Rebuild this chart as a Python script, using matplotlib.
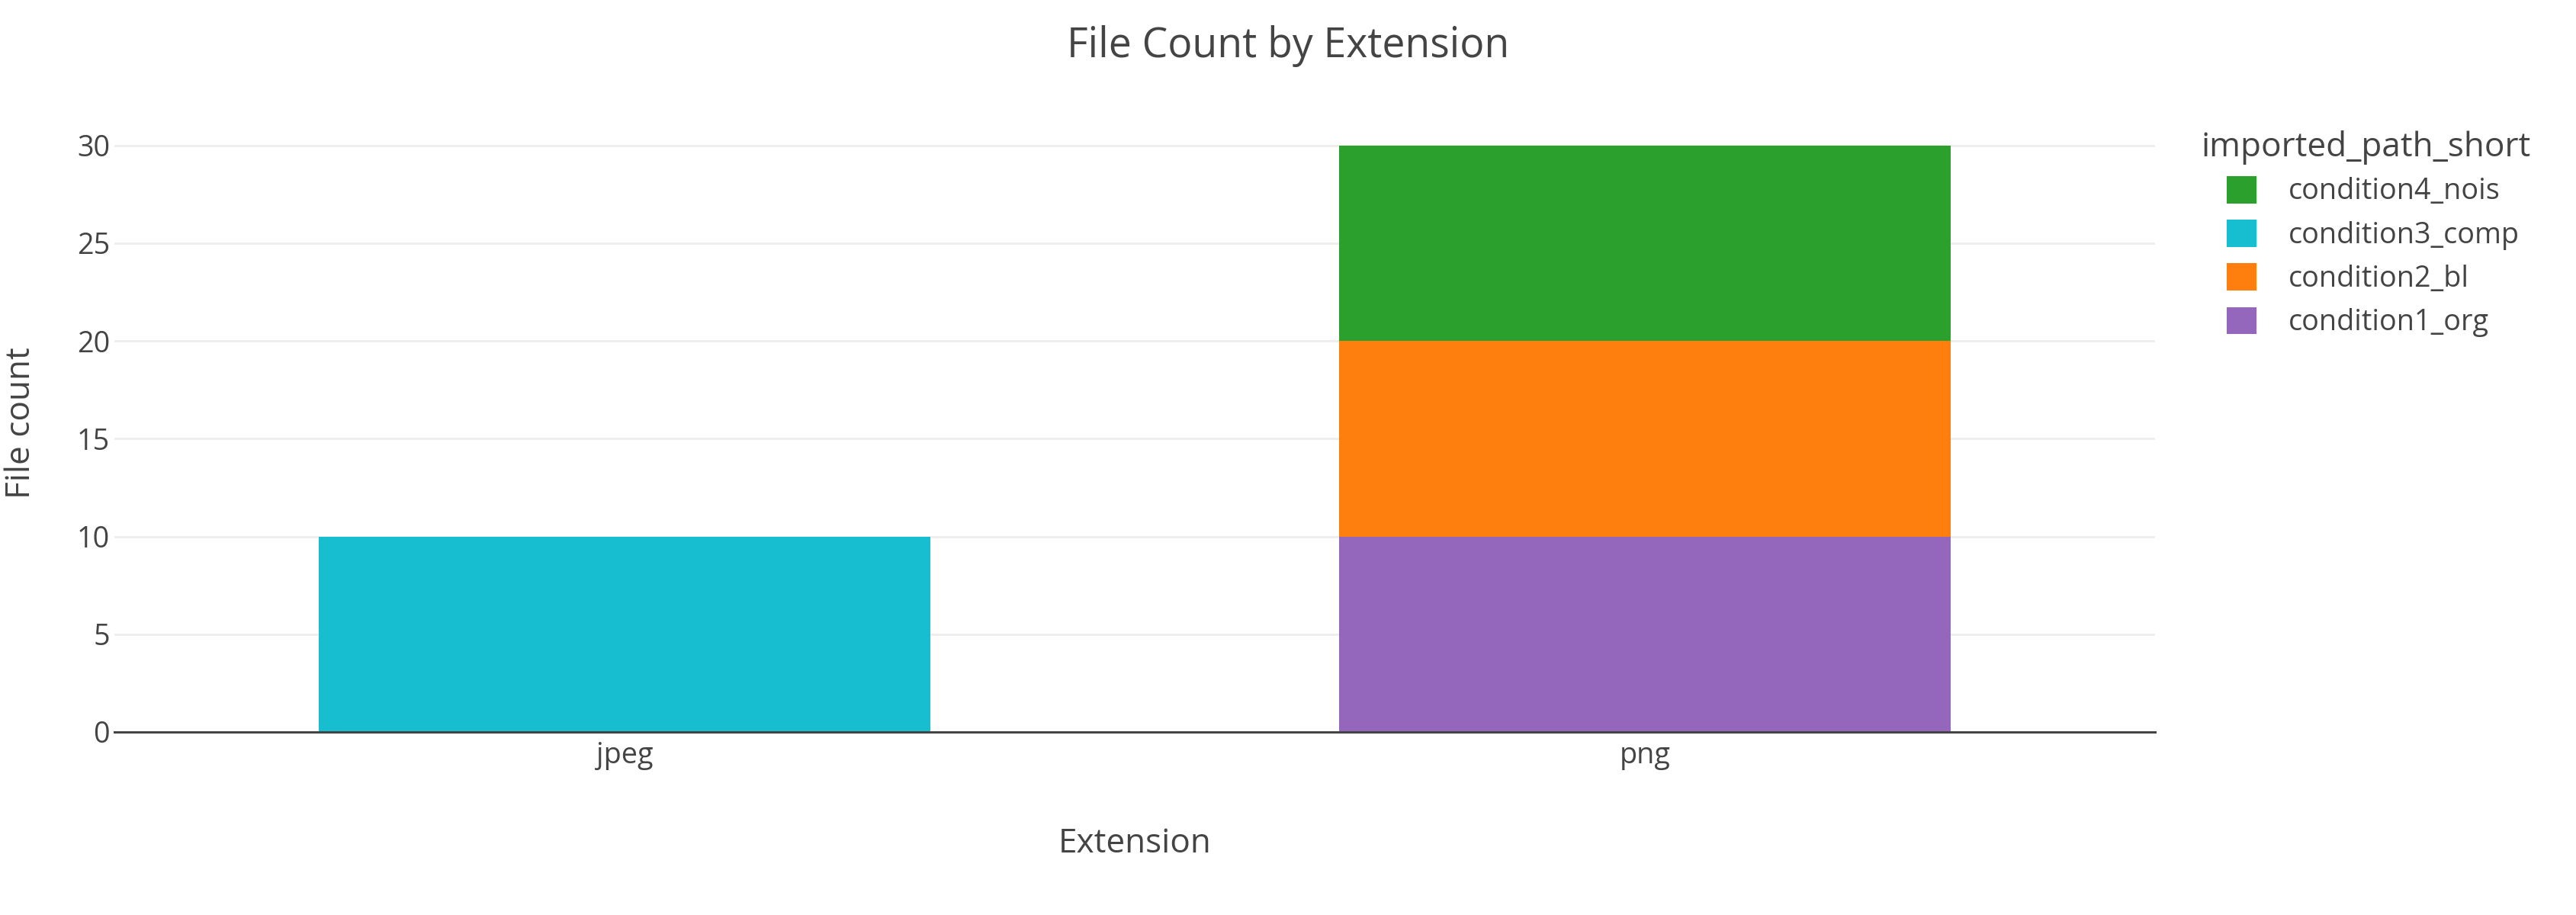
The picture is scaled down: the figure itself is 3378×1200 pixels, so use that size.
import matplotlib.pyplot as plt
import matplotlib.patches as mpatches

plt.rcParams['font.family'] = ['Open Sans', 'DejaVu Sans']

# counts per extension for each imported_path_short group
extensions = ['jpeg', 'png']
groups = ['condition1_org', 'condition2_bl', 'condition3_comp', 'condition4_nois']
condition1_org = [0, 10]
condition2_bl = [0, 10]
condition3_comp = [10, 0]
condition4_nois = [0, 10]
colors = ['#9467bd', '#ff7f0e', '#17becf', '#2ca02c']

series = [condition1_org, condition2_bl, condition3_comp, condition4_nois]
text_color = '#444444'
k = 1.05  # plotly's text renders a little wider than matplotlib's

# dpi 216 -> one plotly css pixel (scale 3) is one point
fig = plt.figure(figsize=(3378 / 216, 1200 / 216), dpi=216)
ax = fig.add_axes([150 / 3378, 240 / 1200, 2676 / 3378, 810 / 1200])

x = list(range(len(extensions)))
bottom = [0] * len(extensions)
handles = []
for name, vals, col in zip(groups, series, colors):
    ax.bar(x, vals, width=0.6, bottom=bottom, color=col, label=name, zorder=2)
    handles.append(mpatches.Patch(color=col, label=name))
    bottom = [b + v for b, v in zip(bottom, vals)]

ax.set_xlim(-0.5, len(extensions) - 0.5)
ax.set_ylim(0, 31.58)
ax.set_yticks([0, 5, 10, 15, 20, 25, 30])
ax.set_xticks(x)
ax.set_xticklabels(extensions)
ax.yaxis.grid(True, color='#eeeeee', linewidth=1, zorder=0)
ax.set_axisbelow(True)
for s in ['top', 'right', 'left']:
    ax.spines[s].set_visible(False)
ax.spines['bottom'].set_color(text_color)
ax.spines['bottom'].set_linewidth(1)
ax.spines['bottom'].set_zorder(3)
ax.tick_params(axis='both', length=0, labelsize=12 * k, colors=text_color)
ax.tick_params(axis='y', pad=2)
ax.tick_params(axis='x', pad=4)

ax.set_xlabel('Extension', fontsize=14 * k, color=text_color, va='baseline')
ax.xaxis.set_label_coords(0.5, (960 - 1118) / 810)
ax.set_ylabel('File count', fontsize=14 * k, color=text_color, va='center')
ax.yaxis.set_label_coords((28 - 150) / 2676, 0.5)

fig.text(0.5, 1 - 75 / 1200, 'File Count by Extension', fontsize=17 * k,
         color=text_color, ha='center', va='baseline')

# legend: plotly lists stacked traces top-down
fig.text(2887 / 3378, 1 - 205 / 1200, 'imported_path_short', fontsize=14 * k,
         color=text_color, ha='left', va='baseline')
leg = fig.legend(handles=handles[::-1], loc='upper left',
                 bbox_to_anchor=(2921 / 3378, 1 - 232 / 1200),
                 frameon=False, fontsize=12 * k, handlelength=1.0 / k,
                 handleheight=1.0 / k, handletextpad=1.15, labelspacing=0.5,
                 borderpad=0, borderaxespad=0)
for t in leg.get_texts():
    t.set_color(text_color)

fig.savefig('out.png', dpi=216, facecolor='white')
